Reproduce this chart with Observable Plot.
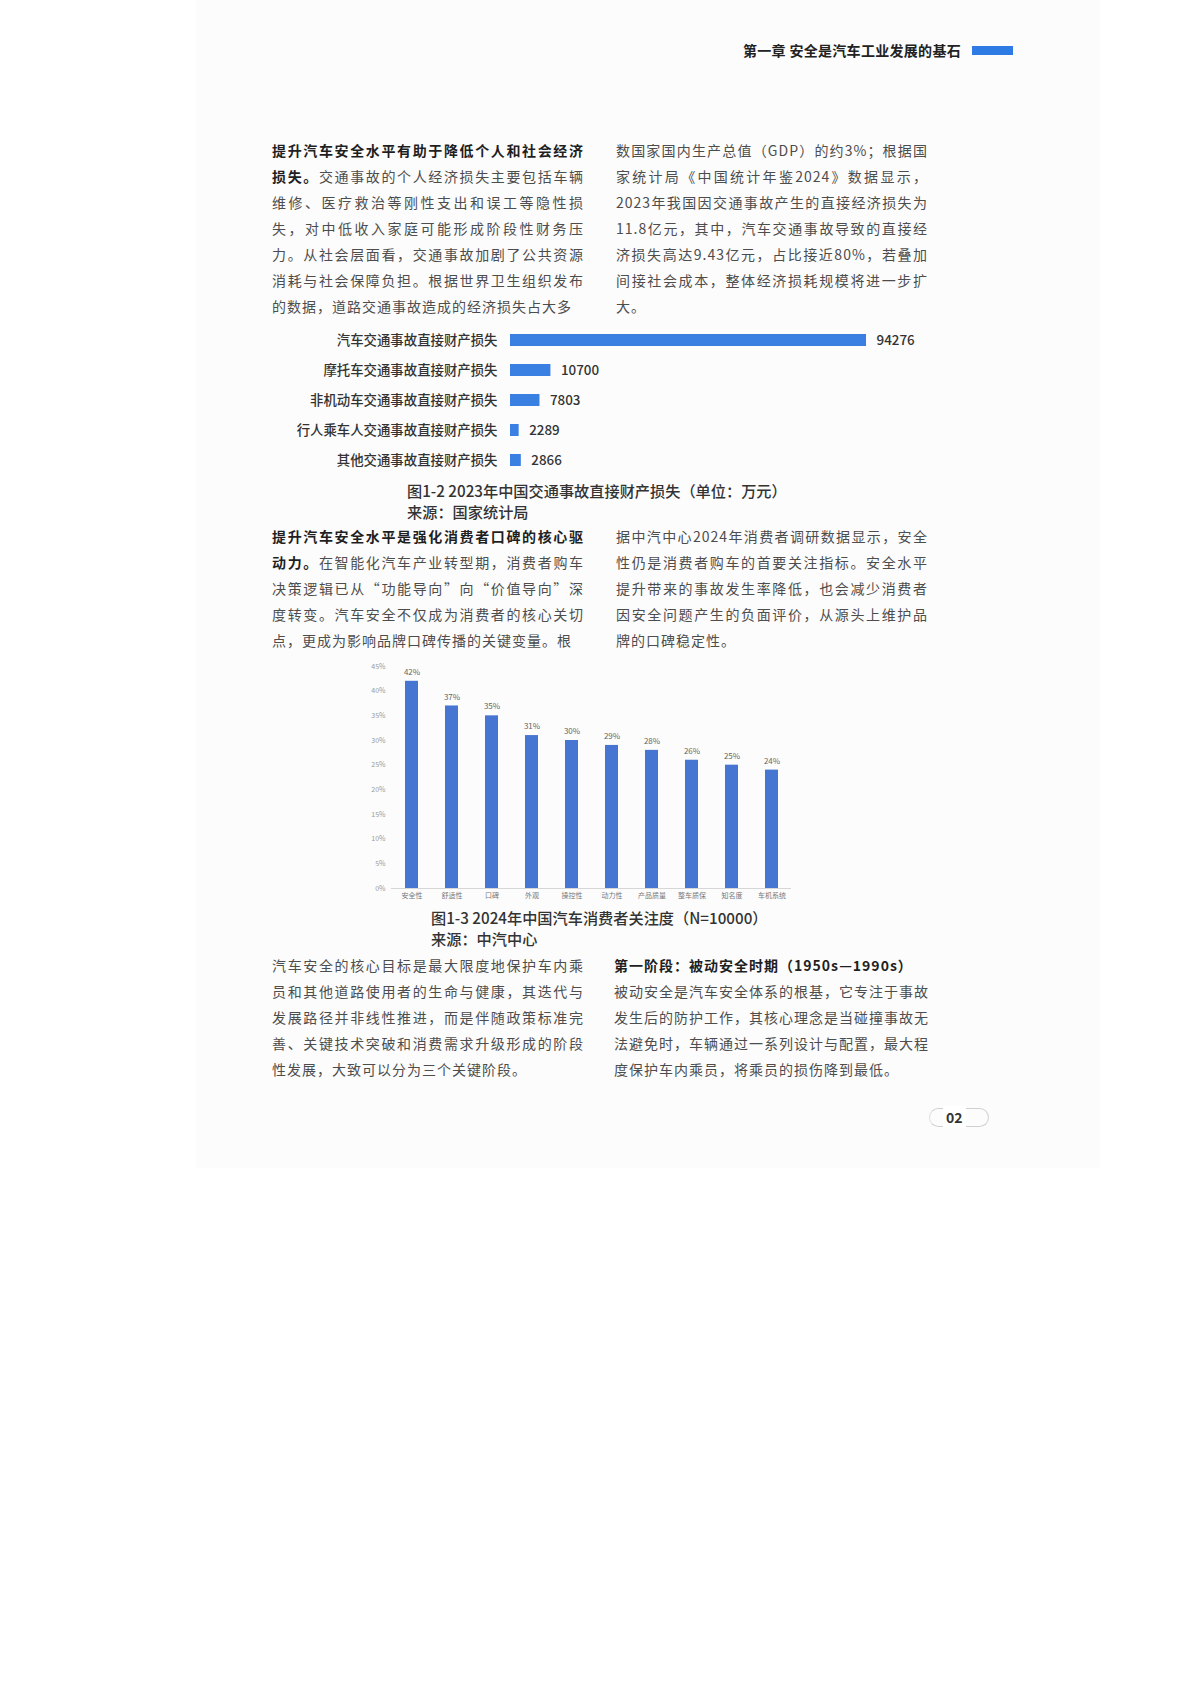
<!DOCTYPE html>
<html>
<head>
<meta charset="utf-8">
<script src="https://cdn.jsdelivr.net/npm/d3@7"></script>
<script src="https://cdn.jsdelivr.net/npm/@observablehq/plot@0.6"></script>
<style>
  html, body { margin:0; padding:0; background:#fff; }
  body { width:1200px; height:1700px; position:relative; font-family:"Noto Sans CJK SC","Noto Sans",sans-serif; }
  .ghost { position:absolute; left:196px; top:0; width:904px; height:1168px; background:#fcfcfc; }
  .header { position:absolute; top:40px; right:239px; font-size:14px; font-weight:700; color:#222; line-height:20px; letter-spacing:0.3px; }
  .hbar { position:absolute; left:972px; top:46px; width:41px; height:9px; background:#2f7be5; }
  .col { position:absolute; width:312px; font-size:14px; line-height:26px; color:#4d4d4d; letter-spacing:1px; white-space:nowrap; }
  .col div { height:26px; }
  .col div.j { text-align:justify; text-align-last:justify; }
  .col b { color:#1f1f1f; font-weight:700; }
  .cap { position:absolute; font-size:15.2px; line-height:20.5px; color:#333; font-weight:500; white-space:nowrap; }
  .chart { position:absolute; }
  .pn { position:absolute; left:929px; top:1108px; width:58px; height:17px; border:1px solid #d0d0d0; border-radius:10px; border-left-color:#e0e0e0; }
  .pnt { position:absolute; left:943px; top:1106px; font-size:14px; font-weight:700; color:#333; line-height:22px; background:#fff; padding:0 3px; }
</style>
</head>
<body>
<div class="ghost"></div>
<div class="header">第一章 安全是汽车工业发展的基石</div>
<div class="hbar"></div>

<div class="col" style="left:272px; top:137px;">
  <div class="j"><b>提升汽车安全水平有助于降低个人和社会经济</b></div>
  <div class="j"><b>损失。</b>交通事故的个人经济损失主要包括车辆</div>
  <div class="j">维修、医疗救治等刚性支出和误工等隐性损</div>
  <div class="j">失，对中低收入家庭可能形成阶段性财务压</div>
  <div class="j">力。从社会层面看，交通事故加剧了公共资源</div>
  <div class="j">消耗与社会保障负担。根据世界卫生组织发布</div>
  <div>的数据，道路交通事故造成的经济损失占大多</div>
</div>
<div class="col" style="left:616px; top:137px;">
  <div class="j">数国家国内生产总值（GDP）的约3%；根据国</div>
  <div class="j">家统计局《中国统计年鉴2024》数据显示，</div>
  <div class="j">2023年我国因交通事故产生的直接经济损失为</div>
  <div class="j">11.8亿元，其中，汽车交通事故导致的直接经</div>
  <div class="j">济损失高达9.43亿元，占比接近80%，若叠加</div>
  <div class="j">间接社会成本，整体经济损耗规模将进一步扩</div>
  <div>大。</div>
</div>

<div id="chart1" class="chart" style="left:257px; top:320px;"></div>
<div class="cap" style="left:407px; top:480px;">图1-2 2023年中国交通事故直接财产损失（单位：万元）<br>来源：国家统计局</div>

<div class="col" style="left:272px; top:523px;">
  <div class="j"><b>提升汽车安全水平是强化消费者口碑的核心驱</b></div>
  <div class="j"><b>动力。</b>在智能化汽车产业转型期，消费者购车</div>
  <div class="j">决策逻辑已从“功能导向”向“价值导向”深</div>
  <div class="j">度转变。汽车安全不仅成为消费者的核心关切</div>
  <div>点，更成为影响品牌口碑传播的关键变量。根</div>
</div>
<div class="col" style="left:616px; top:523px;">
  <div class="j">据中汽中心2024年消费者调研数据显示，安全</div>
  <div class="j">性仍是消费者购车的首要关注指标。安全水平</div>
  <div class="j">提升带来的事故发生率降低，也会减少消费者</div>
  <div class="j">因安全问题产生的负面评价，从源头上维护品</div>
  <div>牌的口碑稳定性。</div>
</div>

<div id="chart2" class="chart" style="left:358px; top:650px;"></div>
<div class="cap" style="left:431px; top:907px;">图1-3 2024年中国汽车消费者关注度（N=10000）<br>来源：中汽中心</div>

<div class="col" style="left:272px; top:952px;">
  <div class="j">汽车安全的核心目标是最大限度地保护车内乘</div>
  <div class="j">员和其他道路使用者的生命与健康，其迭代与</div>
  <div class="j">发展路径并非线性推进，而是伴随政策标准完</div>
  <div class="j">善、关键技术突破和消费需求升级形成的阶段</div>
  <div>性发展，大致可以分为三个关键阶段。</div>
</div>
<div class="col" style="left:614px; top:952px;">
  <div><b>第一阶段：被动安全时期（1950s—1990s）</b></div>
  <div class="j">被动安全是汽车安全体系的根基，它专注于事故</div>
  <div class="j">发生后的防护工作，其核心理念是当碰撞事故无</div>
  <div class="j">法避免时，车辆通过一系列设计与配置，最大程</div>
  <div>度保护车内乘员，将乘员的损伤降到最低。</div>
</div>

<div class="pn"></div>
<div class="pnt">02</div>

<script>
// Figure 1-2 data (万元)
const lossCategories = ["汽车交通事故直接财产损失", "摩托车交通事故直接财产损失", "非机动车交通事故直接财产损失", "行人乘车人交通事故直接财产损失", "其他交通事故直接财产损失"];
const lossValues = [94276, 10700, 7803, 2289, 2866];

// Figure 1-3 data (%)
const concernCategories = ["安全性", "舒适性", "口碑", "外观", "操控性", "动力性", "产品质量", "整车质保", "知名度", "车机系统"];
const concernValues = [42, 37, 35, 31, 30, 29, 28, 26, 25, 24];
const concernTicks = [0, 5, 10, 15, 20, 25, 30, 35, 40, 45];

const lossData = lossCategories.map((c, i) => ({category: c, value: lossValues[i]}));
const concernData = concernCategories.map((c, i) => ({category: c, value: concernValues[i]}));

const font = '"Noto Sans CJK SC", "Noto Sans", sans-serif';

const chart1 = Plot.plot({
  width: 700,
  height: 165,
  marginLeft: 253,
  marginRight: 91,
  marginTop: 3,
  marginBottom: 8,
  style: {fontFamily: font, fontSize: "13.4px", color: "#333", background: "transparent"},
  x: {domain: [0, 94276], axis: null},
  y: {domain: lossCategories, paddingInner: 0.61, paddingOuter: 0.3, label: null},
  marks: [
    Plot.barX(lossData, {x: "value", y: "category", fill: "#3a7fe2"}),
    Plot.text(lossData, {x: "value", y: "category", text: d => String(d.value), dx: 10, textAnchor: "start", fill: "#333", fontSize: 13.4, fontWeight: 500}),
    Plot.axisY({tickSize: 0, tickPadding: 13, fontSize: 13.4, fontWeight: 500, fill: "#333", label: null})
  ]
});
document.getElementById("chart1").appendChild(chart1);

const chart2 = Plot.plot({
  width: 452,
  height: 260,
  marginLeft: 33,
  marginRight: 19,
  marginTop: 16,
  marginBottom: 22,
  style: {fontFamily: font, fontSize: "7px", color: "#999", background: "transparent"},
  x: {domain: concernCategories, paddingInner: 0.68, paddingOuter: 0.34, label: null},
  y: {domain: [0, 45], label: null},
  marks: [
    Plot.ruleY([0], {stroke: "#d6d6d6", strokeWidth: 1}),
    Plot.barY(concernData, {x: "category", y: "value", fill: "#4676d2"}),
    Plot.text(concernData, {x: "category", y: "value", text: d => d.value + "%", dy: -9, fill: "#666", fontSize: 8}),
    Plot.axisY({ticks: concernTicks, tickFormat: d => d + "%", tickSize: 0, tickPadding: 6, fontSize: 7, fill: "#999", label: null}),
    Plot.axisX({tickSize: 0, tickPadding: 5, fontSize: 7, fill: "#777", label: null})
  ]
});
document.getElementById("chart2").appendChild(chart2);
</script>
</body>
</html>
